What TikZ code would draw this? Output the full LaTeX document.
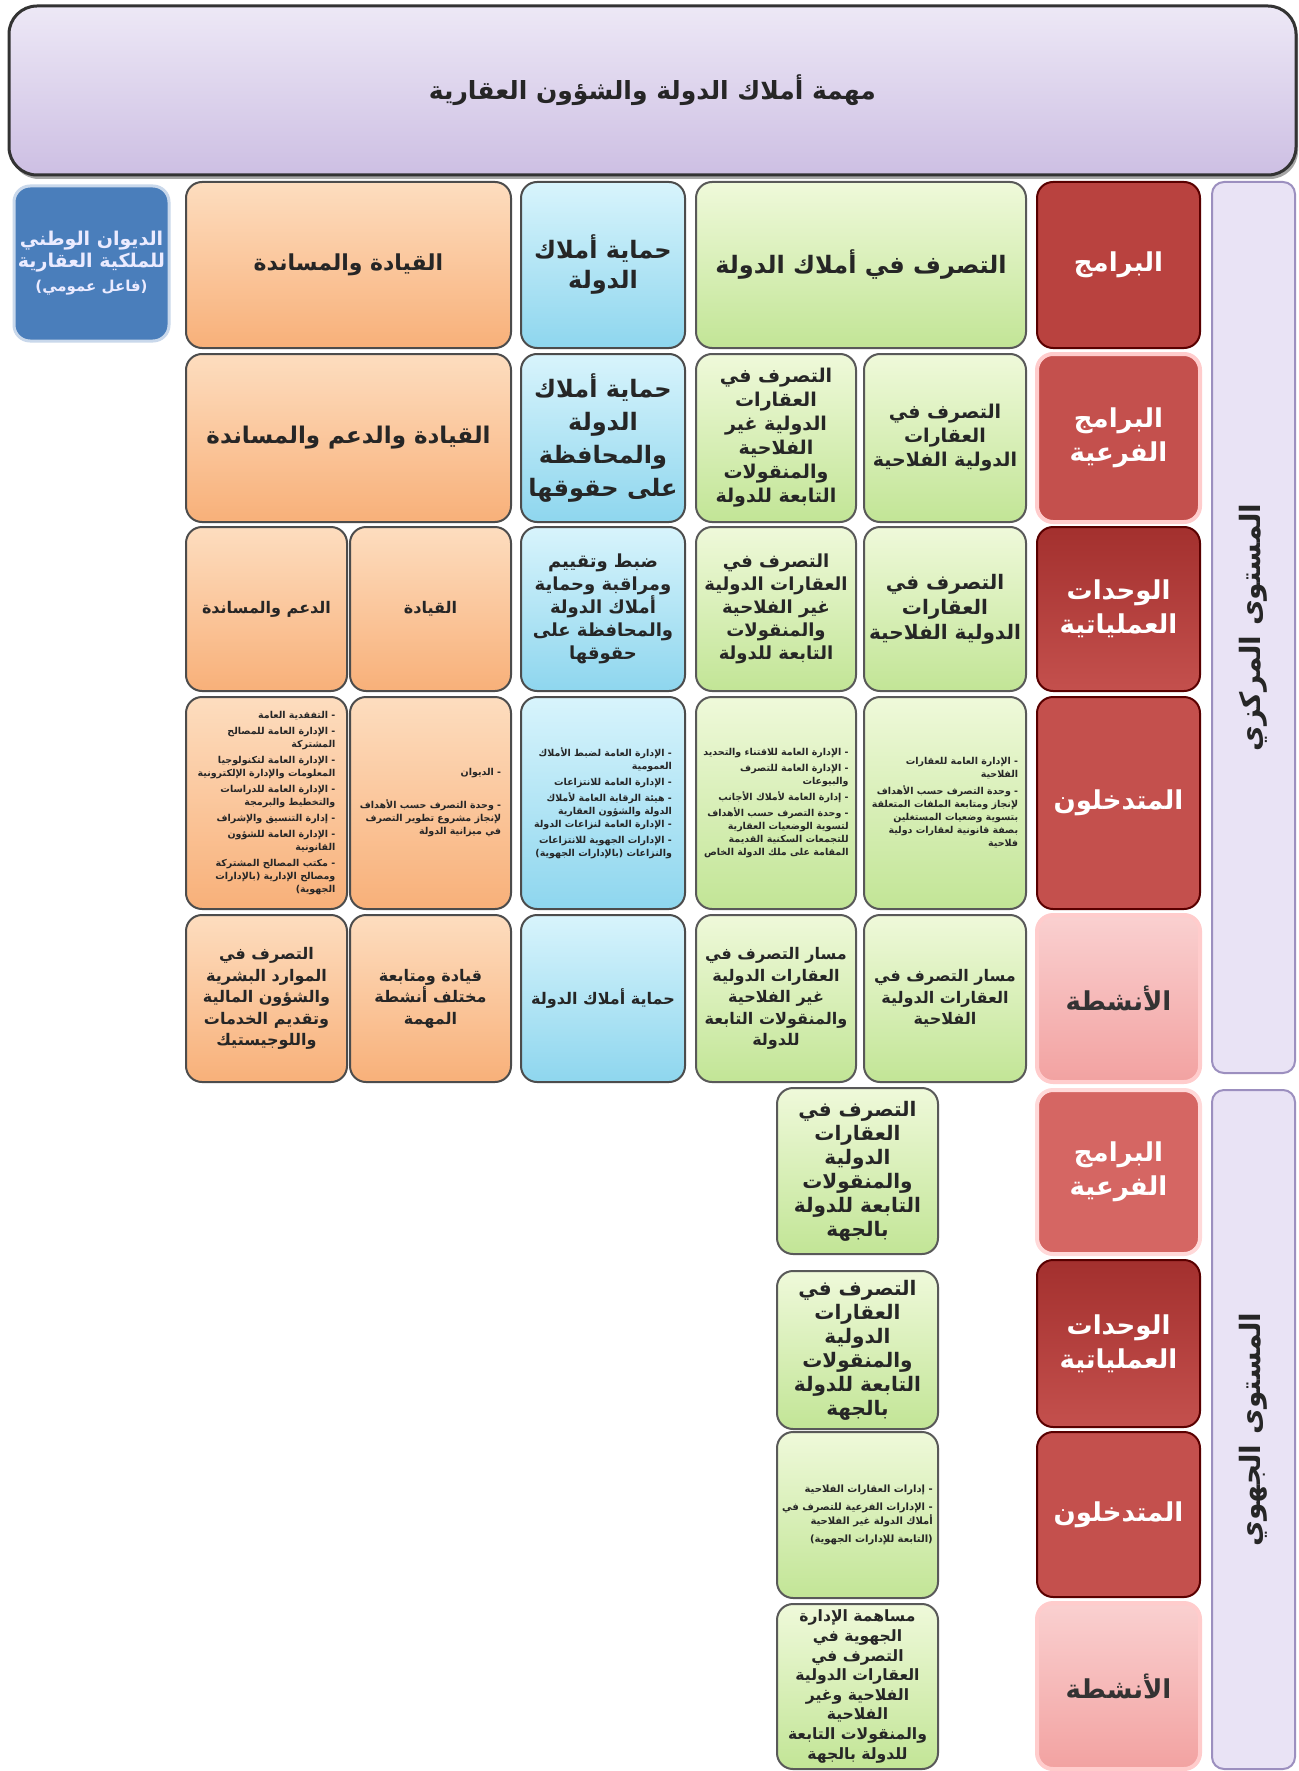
\documentclass[tikz,border=0pt]{standalone}
\usepackage{fontspec}
\usetikzlibrary{shadows}
\TeXXeTstate=1
\newfontfamily\arabicfont[Script=Arabic]{DejaVu Sans}
\newcommand\AR[1]{\beginR #1\endR}
\definecolor{tiT}{HTML}{EDE8F6}
\definecolor{tiB}{HTML}{CDBFE3}
\definecolor{orT}{HTML}{FDDDBF}
\definecolor{orB}{HTML}{F8B079}
\definecolor{blT}{HTML}{D8F4FC}
\definecolor{blB}{HTML}{8ED6EE}
\definecolor{grT}{HTML}{EFF9DA}
\definecolor{grB}{HTML}{C2E596}
\definecolor{redA}{HTML}{B9423F}
\definecolor{redB}{HTML}{C4504D}
\definecolor{redC}{HTML}{D56663}
\definecolor{redD}{HTML}{A3302E}
\definecolor{pkT}{HTML}{FAD0D0}
\definecolor{pkB}{HTML}{F2A2A1}
\definecolor{ontB}{HTML}{4A7EBB}
\definecolor{lavF}{HTML}{E9E3F5}
\definecolor{lavD}{HTML}{9C8FBF}
\newcommand\cell[7]{%
  \pgfmathsetmacro\cw{(#5-#3)*0.5}%
  \pgfmathsetmacro\ch{(#6-#4)*0.5}%
  \pgfmathsetmacro\cx{(#3+#5)/2}%
  \pgfmathsetmacro\cy{(#4+#6)/2}%
  \node[#2, minimum width=\cw pt, minimum height=\ch pt] (#1) at (\cx,\cy) {#7};}
\tikzset{
  fz/.style 2 args={font=\arabicfont\bfseries\fontsize{#1}{#2}\selectfont},
  fr/.style 2 args={font=\arabicfont\fontsize{#1}{#2}\selectfont},
  base/.style={rounded corners=8pt, line width=1pt, align=center, inner sep=1pt, text=black!85},
  ob/.style={base, top color=orT, bottom color=orB, draw=black!70},
  bb/.style={base, top color=blT, bottom color=blB, draw=black!70},
  gb/.style={base, top color=grT, bottom color=grB, draw=black!65},
  rdA/.style={base, fill=redA, draw=red!35!black, text=white, fz={13}{17}},
  rdB/.style={base, fill=redB, draw=white!80!red, line width=2pt, text=white, fz={13}{17}},
  rdC/.style={base, top color=redD, bottom color=redB, draw=red!35!black, text=white, fz={13}{17}},
  rdL/.style={base, fill=redC, draw=white!85!red, line width=2pt, text=white, fz={13}{17}},
  pk/.style={base, top color=pkT, bottom color=pkB, draw=white!80!red, line width=2pt, text=black!80, fz={13}{17}},
  vlab/.style={base, rounded corners=6pt, fill=lavF, draw=lavD, line width=1pt, text=black!85, fz={14}{18}},
  lst/.style={align=right, fz={4.75}{6.5}},
  act/.style={fz={8}{10.8}}
}
\begin{document}
\begin{tikzpicture}[x=0.5pt,y=-0.5pt]
\useasboundingbox[fill=white] (0,0) rectangle (1299,1771);
% title
\cell{title}{base, rounded corners=14pt, top color=tiT, bottom color=tiB, draw=black!80, line width=1.5pt, drop shadow={shadow xshift=1pt, shadow yshift=-2pt, opacity=0.7}, fz={12.5}{16}}{9}{6}{1296}{175}{\AR{مهمة أملاك الدولة والشؤون العقارية}}
% public actor
\cell{ont}{base, fill=ontB, draw=white!70!ontB, line width=1.5pt, text=white!92!blue, fz={9.5}{11}}{14}{186}{169}{341}{\AR{الديوان الوطني}\\\AR{للملكية العقارية}\\[1pt]{\fontsize{7.5}{9}\selectfont\AR{(فاعل عمومي)}}}
% vertical labels
\node[vlab, rotate=90, minimum width=445.5pt, minimum height=41.5pt] (vc) at (1253.5,627.5) {\AR{المستوى المركزي}};
\node[vlab, rotate=90, minimum width=339.5pt, minimum height=41.5pt] (vr) at (1253.5,1429.5) {\AR{المستوى الجهوي}};
% row 1
\cell{o1}{ob, fz={11}{14}}{186}{182}{511}{348}{\AR{القيادة والمساندة}}
\cell{b1}{bb, fz={12}{15}}{521}{182}{685}{348}{\AR{حماية أملاك}\\\AR{الدولة}}
\cell{g1}{gb, fz={12}{15}}{696}{182}{1026}{348}{\AR{التصرف في أملاك الدولة}}
\cell{r1}{rdA}{1037}{182}{1200}{348}{\AR{البرامج}}
% row 2
\cell{o2}{ob, fz={11.5}{14}}{186}{354}{511}{522}{\AR{القيادة والدعم والمساندة}}
\cell{b2}{bb, fz={12}{16.5}}{521}{354}{685}{522}{\AR{حماية أملاك}\\\AR{الدولة}\\\AR{والمحافظة}\\\AR{على حقوقها}}
\cell{gl2}{gb, fz={9.5}{12}}{696}{354}{856}{522}{\AR{التصرف في}\\\AR{العقارات}\\\AR{الدولية غير}\\\AR{الفلاحية}\\\AR{والمنقولات}\\\AR{التابعة للدولة}}
\cell{gr2}{gb, fz={9.5}{12}}{864}{354}{1026}{522}{\AR{التصرف في}\\\AR{العقارات}\\\AR{الدولية الفلاحية}}
\cell{r2}{rdB}{1037}{354}{1200}{522}{\AR{البرامج}\\\AR{الفرعية}}
% row 3
\cell{ol3}{ob, fz={8}{10}}{186}{527}{347}{691}{\AR{الدعم والمساندة}}
\cell{or3}{ob, fz={8}{10}}{350}{527}{511}{691}{\AR{القيادة}}
\cell{b3}{bb, fz={9}{11.5}}{521}{527}{685}{691}{\AR{ضبط وتقييم}\\\AR{ومراقبة وحماية}\\\AR{أملاك الدولة}\\\AR{والمحافظة على}\\\AR{حقوقها}}
\cell{gl3}{gb, fz={9}{11.5}}{696}{527}{856}{691}{\AR{التصرف في}\\\AR{العقارات الدولية}\\\AR{غير الفلاحية}\\\AR{والمنقولات}\\\AR{التابعة للدولة}}
\cell{gr3}{gb, fz={10}{12.5}}{864}{527}{1026}{691}{\AR{التصرف في}\\\AR{العقارات}\\\AR{الدولية الفلاحية}}
\cell{r3}{rdC}{1037}{527}{1200}{691}{\AR{الوحدات}\\\AR{العملياتية}}
% row 4
\cell{ol4}{ob, lst}{186}{697}{347}{909}{\AR{- التفقدية العامة}\\[1.5pt]\AR{- الإدارة العامة للمصالح}\\\AR{المشتركة}\\[1.5pt]\AR{- الإدارة العامة لتكنولوجيا}\\\AR{المعلومات والإدارة الإلكترونية}\\[1.5pt]\AR{- الإدارة العامة للدراسات}\\\AR{والتخطيط والبرمجة}\\[1.5pt]\AR{- إدارة التنسيق والإشراف}\\[1.5pt]\AR{- الإدارة العامة للشؤون}\\\AR{القانونية}\\[1.5pt]\AR{- مكتب المصالح المشتركة}\\\AR{ومصالح الإدارية (بالإدارات}\\\AR{الجهوية)}}
\cell{or4}{ob, lst}{350}{697}{511}{909}{\AR{- الديوان}\\[10pt]\AR{- وحدة التصرف حسب الأهداف}\\\AR{لإنجاز مشروع تطوير التصرف}\\\AR{في ميزانية الدولة}}
\cell{b4}{bb, lst}{521}{697}{685}{909}{\AR{- الإدارة العامة لضبط الأملاك}\\\AR{العمومية}\\[1.5pt]\AR{- الإدارة العامة للانتزاعات}\\[1.5pt]\AR{- هيئة الرقابة العامة لأملاك}\\\AR{الدولة والشؤون العقارية}\\\AR{- الإدارة العامة لنزاعات الدولة}\\[1.5pt]\AR{- الإدارات الجهوية للانتزاعات}\\\AR{والنزاعات (بالإدارات الجهوية)}}
\cell{gl4}{gb, lst}{696}{697}{856}{909}{\AR{- الإدارة العامة للاقتناء والتحديد}\\[1.5pt]\AR{- الإدارة العامة للتصرف}\\\AR{والبيوعات}\\[1.5pt]\AR{- إدارة العامة لأملاك الأجانب}\\[1.5pt]\AR{- وحدة التصرف حسب الأهداف}\\\AR{لتسوية الوضعيات العقارية}\\\AR{للتجمعات السكنية القديمة}\\\AR{المقامة على ملك الدولة الخاص}}
\cell{gr4}{gb, lst}{864}{697}{1026}{909}{\AR{- الإدارة العامة للعقارات}\\\AR{الفلاحية}\\[2pt]\AR{- وحدة التصرف حسب الأهداف}\\\AR{لإنجاز ومتابعة الملفات المتعلقة}\\\AR{بتسوية وضعيات المستغلين}\\\AR{بصفة قانونية لعقارات دولية}\\\AR{فلاحية}}
\cell{r4}{rdB, line width=1pt, draw=red!35!black}{1037}{697}{1200}{909}{\AR{المتدخلون}}
% row 5
\cell{ol5}{ob, act}{186}{915}{347}{1082}{\AR{التصرف في}\\\AR{الموارد البشرية}\\\AR{والشؤون المالية}\\\AR{وتقديم الخدمات}\\\AR{واللوجيستيك}}
\cell{or5}{ob, act}{350}{915}{511}{1082}{\AR{قيادة ومتابعة}\\\AR{مختلف أنشطة}\\\AR{المهمة}}
\cell{b5}{bb, act}{521}{915}{685}{1082}{\AR{حماية أملاك الدولة}}
\cell{gl5}{gb, act}{696}{915}{856}{1082}{\AR{مسار التصرف في}\\\AR{العقارات الدولية}\\\AR{غير الفلاحية}\\\AR{والمنقولات التابعة}\\\AR{للدولة}}
\cell{gr5}{gb, act}{864}{915}{1026}{1082}{\AR{مسار التصرف في}\\\AR{العقارات الدولية}\\\AR{الفلاحية}}
\cell{r5}{pk}{1037}{915}{1200}{1082}{\AR{الأنشطة}}
% regional
\cell{rg1}{gb, fz={10}{12}}{777}{1088}{938}{1254}{\AR{التصرف في}\\\AR{العقارات}\\\AR{الدولية}\\\AR{والمنقولات}\\\AR{التابعة للدولة}\\\AR{بالجهة}}
\cell{rr1}{rdL}{1037}{1090}{1200}{1254}{\AR{البرامج}\\\AR{الفرعية}}
\cell{rg2}{gb, fz={10}{12}}{777}{1271}{938}{1429}{\AR{التصرف في}\\\AR{العقارات}\\\AR{الدولية}\\\AR{والمنقولات}\\\AR{التابعة للدولة}\\\AR{بالجهة}}
\cell{rr2}{rdC}{1037}{1260}{1200}{1427}{\AR{الوحدات}\\\AR{العملياتية}}
\cell{rg3}{gb, lst, fz={5}{7}}{777}{1432}{938}{1598}{\AR{- إدارات العقارات الفلاحية}\\[2pt]\AR{- الإدارات الفرعية للتصرف في}\\\AR{أملاك الدولة غير الفلاحية}\\[2pt]\AR{(التابعة للإدارات الجهوية)}}
\cell{rr3}{rdB, line width=1pt, draw=red!35!black}{1037}{1432}{1200}{1597}{\AR{المتدخلون}}
\cell{rg4}{gb, fz={7.8}{9.8}}{777}{1604}{938}{1769}{\AR{مساهمة الإدارة}\\\AR{الجهوية في}\\\AR{التصرف في}\\\AR{العقارات الدولية}\\\AR{الفلاحية وغير}\\\AR{الفلاحية}\\\AR{والمنقولات التابعة}\\\AR{للدولة بالجهة}}
\cell{rr4}{pk}{1037}{1603}{1200}{1769}{\AR{الأنشطة}}
\end{tikzpicture}
\end{document}
